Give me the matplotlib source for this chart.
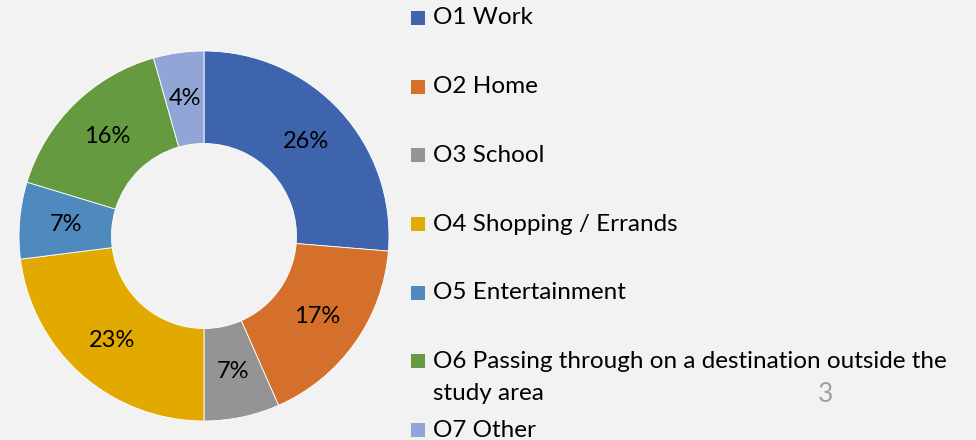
import matplotlib.pyplot as plt

categories = ['O1 Work', 'O2 Home', 'O3 School', 'O4 Shopping / Errands',
              'O5 Entertainment',
              'O6 Passing through on a destination outside the\nstudy area',
              'O7 Other']
shares = [26.3, 17.1, 6.6, 23.0, 6.7, 15.9, 4.4]
colors = ['#3E64AD', '#D5702C', '#949494', '#E2AA00', '#4F8ABF', '#659A41', '#91A5D6']
page_number = '3'

bg = '#F2F2F2'
plt.rcParams['font.family'] = ['Lato', 'DejaVu Sans']


def main():
    fig = plt.figure(figsize=(9.76, 4.4), dpi=100, facecolor=bg)

    # donut
    ax = fig.add_axes([19 / 976, 19 / 440, 370 / 976, 370 / 440])
    ax.set_facecolor(bg)
    wedges, texts, autotexts = ax.pie(
        shares, colors=colors, startangle=90, counterclock=False,
        radius=1.0, autopct='%.0f%%', pctdistance=0.75,
        wedgeprops=dict(width=0.5, edgecolor='white', linewidth=0.6),
        textprops=dict(fontsize=17, color='black'))
    ax.set_xlim(-1, 1)
    ax.set_ylim(-1, 1)
    ax.set_aspect('equal')

    # legend drawn by hand to follow the wide spacing
    lax = fig.add_axes([0, 0, 1, 1])
    lax.set_xlim(0, 976)
    lax.set_ylim(440, 0)
    lax.axis('off')
    step = 68.7
    for i, (name, c) in enumerate(zip(categories, colors)):
        y = 18 + i * step
        lax.add_patch(plt.Rectangle((411, y - 7), 14, 14, color=c, lw=0))
        for k, line in enumerate(name.split('\n')):
            lax.text(433, y + k * 32, line, fontsize=17.5, va='center',
                     ha='left', color='black')

    lax.text(826, 394, page_number, fontsize=19, color='#A0A0A0',
             ha='center', va='center')

    fig.savefig('out.png', dpi=100, facecolor=bg)


if __name__ == '__main__':
    main()
